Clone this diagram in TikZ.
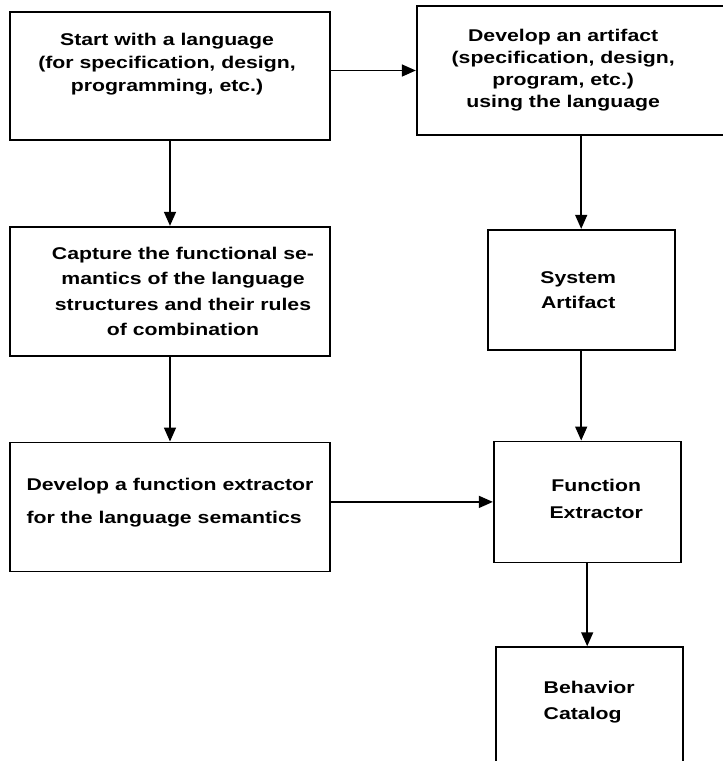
\documentclass[tikz,border=0pt]{standalone}
\usepackage{fontspec}
\setmainfont{Liberation Sans}[FakeStretch=1.25]
\usepackage{tikz}
\usetikzlibrary{positioning}
\usetikzlibrary{arrows.meta}

\begin{document}
\begin{tikzpicture}[x=1pt, y=1pt,
    box/.style = {draw, rectangle, line width=1.7pt, inner sep=0pt},
    narrow/.style = {box, minimum width=187pt},
    txt/.style = {align=center, inner sep=0pt, font=\bfseries\fontsize{17}{23}\selectfont},
    arr/.style = {-{Triangle[length=14pt, width=12pt]}, line width=1.5pt}]
            \useasboundingbox (0,0) rectangle (723,-761);
            % Boxes
            \node[box, minimum width=320pt, minimum height=128pt] (start) at (170,-76) {};
            \node[box, minimum width=307pt, minimum height=129pt] (artifact) [right=85pt of start, yshift=5.5pt] {};
            \node[box, minimum width=320pt, minimum height=129pt] (capture) [below=85pt of start] {};
            \node[narrow, minimum height=120pt] (sysart) [below=93pt of artifact, xshift=11pt] {};
            \node[box, minimum width=320pt, minimum height=129pt] (extract) [below=85pt of capture] {};
            \node[narrow, minimum height=121pt] (funcext) [below=90pt of sysart, xshift=6pt] {};
            \node[narrow, minimum height=121pt] (catalog) [below=83pt of funcext, xshift=2pt] {};
            % Texts
            \node[txt] (start-t) at ([xshift=-3pt, yshift=12pt]start.center)
                {Start with a language\\(for specification, design,\\programming, etc.)};
            \node[txt, font=\bfseries\fontsize{17}{22}\selectfont] (artifact-t) at ([xshift=-7pt]artifact.center)
                {Develop an artifact\\(specification, design,\\program, etc.)\\using the language};
            \node[txt, font=\bfseries\fontsize{17}{25.5}\selectfont] (capture-t) at ([xshift=13pt]capture.center)
                {Capture the functional se-\\mantics of the language\\structures and their rules\\of combination};
            \node[txt, font=\bfseries\fontsize{17}{25}\selectfont] (sysart-t) at ([xshift=-3pt]sysart.center)
                {System\\Artifact};
            \node[txt, align=left, font=\bfseries\fontsize{17}{33}\selectfont] (extract-t) at ([yshift=4pt]extract.center)
                {Develop a function extractor\\for the language semantics};
            \node[txt, font=\bfseries\fontsize{17}{27}\selectfont] (funcext-t) at ([xshift=9pt, yshift=3pt]funcext.center)
                {Function\\Extractor};
            \node[txt, align=left, font=\bfseries\fontsize{17}{26}\selectfont] (catalog-t) at ([yshift=5pt]catalog.center)
                {Behavior\\Catalog};
            % Edges
            \draw[arr] (artifact.west -| start.east) -- (artifact.west);
            \draw[arr] (start) -- (capture);
            \draw[arr] (capture) -- (extract);
            \draw[arr] (artifact.south -| sysart.north) -- (sysart.north);
            \draw[arr] (sysart.south) -- (sysart.south |- funcext.north);
            \draw[arr] (funcext.west -| extract.east) -- (funcext.west);
            \draw[arr] (funcext.south) -- (funcext.south |- catalog.north);
\end{tikzpicture}
\end{document}
